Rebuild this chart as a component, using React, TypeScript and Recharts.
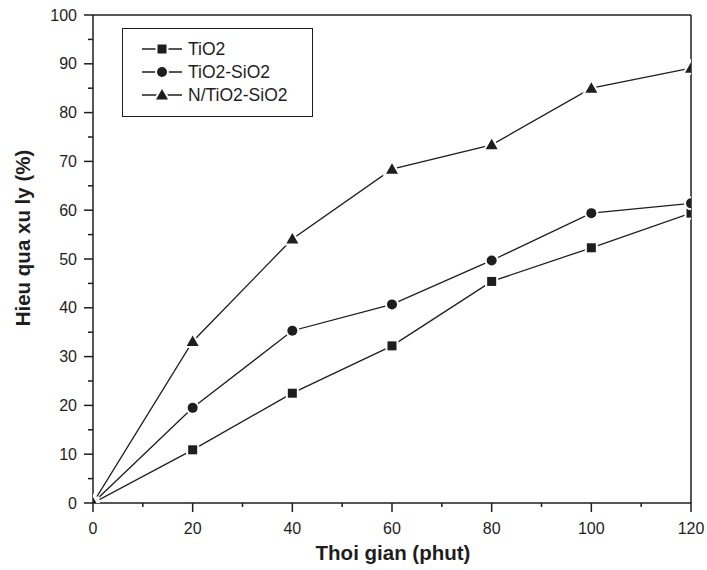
import React from 'react';
import { LineChart, Line, XAxis, YAxis, Legend, ReferenceLine, Label } from 'recharts';

// thoi gian (phut)
const times = [0, 20, 40, 60, 80, 100, 120];
// hieu qua xu ly (%)
const tio2 = [0, 10.9, 22.5, 32.2, 45.4, 52.3, 59.4];
const tio2Sio2 = [0, 19.5, 35.3, 40.7, 49.7, 59.4, 61.4];
const nTio2Sio2 = [0, 33.1, 54.1, 68.4, 73.4, 85.0, 89.1];

const seriesNames = ['TiO2', 'TiO2-SiO2', 'N/TiO2-SiO2'];
const xTicks = [0, 10, 20, 30, 40, 50, 60, 70, 80, 90, 100, 110, 120];
const yTicks = [0, 5, 10, 15, 20, 25, 30, 35, 40, 45, 50, 55, 60, 65, 70, 75, 80, 85, 90, 95, 100];

const data = times.map((t, i) => ({ t, a: tio2[i], b: tio2Sio2[i], c: nTio2Sio2[i] }));

const FONT = '"Liberation Sans", Arial, Helvetica, sans-serif';
const INK = '#1e1e1e';

const shapes: Record<string, string> = { a: 'square', b: 'circle', c: 'triangle' };

const Marker = ({ shape, cx, cy }: { shape: string; cx: number; cy: number }) => {
  const style = { fill: INK, stroke: '#fff', strokeWidth: 4, paintOrder: 'stroke' as const };
  if (shape === 'square') return <rect x={cx - 4.5} y={cy - 4.5} width={9} height={9} style={style} />;
  if (shape === 'circle') return <circle cx={cx} cy={cy} r={5} style={style} />;
  return <polygon points={`${cx},${cy - 6} ${cx + 6},${cy + 4.5} ${cx - 6},${cy + 4.5}`} style={style} />;
};

const XTick = (props: any) => {
  const { x, y, payload } = props;
  const v = payload.value;
  const major = v % 20 === 0;
  return (
    <g>
      <line x1={x} x2={x} y1={y} y2={y + (major ? 9 : 4)} stroke={INK} strokeWidth={1.5} />
      {major && (
        <text x={x} y={y + 31} textAnchor="middle" fontSize={16} fill={INK} fontFamily={FONT}>
          {v}
        </text>
      )}
    </g>
  );
};

const YTick = (props: any) => {
  const { x, y, payload } = props;
  const v = payload.value;
  const major = v % 10 === 0;
  return (
    <g>
      <line x1={x} x2={x - (major ? 9 : 5)} y1={y} y2={y} stroke={INK} strokeWidth={1.5} />
      {major && (
        <text x={x - 16} y={y + 5.5} textAnchor="end" fontSize={16} fill={INK} fontFamily={FONT}>
          {v}
        </text>
      )}
    </g>
  );
};

const LegendBox = (props: any) => {
  const items = [...(props.payload || [])].sort((p: any, q: any) =>
    String(p.dataKey).localeCompare(String(q.dataKey))
  );
  return (
    <div style={{ width: 191, height: 89, border: `1px solid ${INK}`, boxSizing: 'border-box', background: '#fff' }}>
      <svg width={189} height={87} style={{ display: 'block' }}>
        {items.map((it: any, i: number) => {
          const cy = 20 + i * 23;
          return (
            <g key={it.value}>
              <line x1={19} x2={59} y1={cy} y2={cy} stroke={INK} strokeWidth={1.3} />
              <Marker shape={shapes[it.dataKey]} cx={39} cy={cy} />
              <text x={65} y={cy + 6.3} fontSize={17.5} fill={INK} fontFamily={FONT}>
                {it.value}
              </text>
            </g>
          );
        })}
      </svg>
    </div>
  );
};

const dotFor = (key: string) => (p: any) => (
  <Marker key={`${key}-${p.index}`} shape={shapes[key]} cx={p.cx} cy={p.cy} />
);

export default function App() {
  return (
    <div style={{ position: 'absolute', left: 0, top: 0, width: 707, height: 570, background: '#fff' }}>
      <LineChart width={707} height={570} data={data} margin={{ top: 15, right: 16, bottom: 0, left: 0 }}>
        <XAxis
          dataKey="t"
          type="number"
          domain={[0, 120]}
          ticks={xTicks}
          interval={0}
          allowDataOverflow
          tickSize={0}
          tickMargin={0}
          tickLine={false}
          tick={<XTick />}
          axisLine={{ stroke: INK, strokeWidth: 1.5 }}
          height={67}
        >
          <Label
            content={() => (
              <text x={393} y={560} textAnchor="middle" fontSize={20.5} fontWeight="bold" fill={INK} fontFamily={FONT}>
                Thoi gian (phut)
              </text>
            )}
          />
        </XAxis>
        <YAxis
          type="number"
          domain={[0, 100]}
          ticks={yTicks}
          interval={0}
          allowDataOverflow
          tickSize={0}
          tickMargin={0}
          tickLine={false}
          tick={<YTick />}
          axisLine={{ stroke: INK, strokeWidth: 1.5 }}
          width={93}
        >
          <Label
            content={() => (
              <text
                x={30}
                y={238}
                transform="rotate(-90 30 238)"
                textAnchor="middle"
                fontSize={20.5}
                fontWeight="bold"
                fill={INK}
                fontFamily={FONT}
              >
                Hieu qua xu ly (%)
              </text>
            )}
          />
        </YAxis>
        <ReferenceLine y={100} stroke={INK} strokeWidth={1.5} />
        <ReferenceLine x={120} stroke={INK} strokeWidth={1.5} />
        <Legend
          layout="vertical"
          align="center"
          verticalAlign="middle"
          content={<LegendBox />}
          wrapperStyle={{ left: 122, top: 28, width: 191, height: 89 }}
        />
        <Line dataKey="a" name={seriesNames[0]} type="linear" stroke={INK} strokeWidth={1.3} dot={dotFor('a')} activeDot={false} isAnimationActive={false} />
        <Line dataKey="b" name={seriesNames[1]} type="linear" stroke={INK} strokeWidth={1.3} dot={dotFor('b')} activeDot={false} isAnimationActive={false} />
        <Line dataKey="c" name={seriesNames[2]} type="linear" stroke={INK} strokeWidth={1.3} dot={dotFor('c')} activeDot={false} isAnimationActive={false} />
      </LineChart>
    </div>
  );
}
